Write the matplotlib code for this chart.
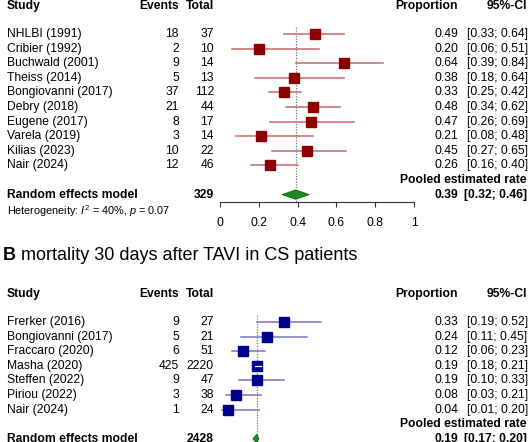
import matplotlib
matplotlib.use("Agg")
import matplotlib.pyplot as plt
from matplotlib.transforms import blended_transform_factory
from matplotlib.patches import Polygon

plt.rcParams["font.family"] = ["Liberation Sans", "DejaVu Sans"]
plt.rcParams["mathtext.fontset"] = "custom"
plt.rcParams["mathtext.rm"] = "Liberation Sans"
plt.rcParams["mathtext.it"] = "Liberation Sans:italic"

# panel A data
studies_a = ["NHLBI (1991)", "Cribier (1992)", "Buchwald (2001)", "Theiss (2014)",
             "Bongiovanni (2017)", "Debry (2018)", "Eugene (2017)", "Varela (2019)",
             "Kilias (2023)", "Nair (2024)"]
events_a = [18, 2, 9, 5, 37, 21, 8, 3, 10, 12]
totals_a = [37, 10, 14, 13, 112, 44, 17, 14, 22, 46]
prop_a = [0.49, 0.20, 0.64, 0.38, 0.33, 0.48, 0.47, 0.21, 0.45, 0.26]
lo_a = [0.33, 0.06, 0.39, 0.18, 0.25, 0.34, 0.26, 0.08, 0.27, 0.16]
hi_a = [0.64, 0.51, 0.84, 0.64, 0.42, 0.62, 0.69, 0.48, 0.65, 0.40]
pooled_a = (0.39, 0.32, 0.46)
total_sum_a = 329

# panel B data
studies_b = ["Frerker (2016)", "Bongiovanni (2017)", "Fraccaro (2020)", "Masha (2020)",
             "Steffen (2022)", "Piriou (2022)", "Nair (2024)"]
events_b = [9, 5, 6, 425, 9, 3, 1]
totals_b = [27, 21, 51, 2220, 47, 38, 24]
prop_b = [0.33, 0.24, 0.12, 0.19, 0.19, 0.08, 0.04]
lo_b = [0.19, 0.11, 0.06, 0.18, 0.10, 0.03, 0.01]
hi_b = [0.52, 0.45, 0.23, 0.21, 0.33, 0.21, 0.20]
pooled_b = (0.19, 0.17, 0.20)
total_sum_b = 2428

ticks = [0, 0.2, 0.4, 0.6, 0.8, 1]

W, H = 530, 442
FS = 8.7
fig = plt.figure(figsize=(W / 100, H / 100), dpi=100)

ROW = 14.6  # pixels per row
X0, X1 = 220, 414  # pixel span of 0..1


def make_axes(first_row_px, top_px, bottom_px):
    ax = fig.add_axes([X0 / W, (H - bottom_px) / H, (X1 - X0) / W, (bottom_px - top_px) / H])
    ax.set_xlim(0, 1)
    ax.set_ylim((bottom_px - first_row_px) / ROW, (top_px - first_row_px) / ROW)
    ax.patch.set_visible(False)
    for s in ["top", "right", "left"]:
        ax.spines[s].set_visible(False)
    ax.spines["bottom"].set_color("#333333")
    ax.set_yticks([])
    ax.set_xticks(ticks)
    ax.set_xticklabels(["0", "0.2", "0.4", "0.6", "0.8", "1"])
    ax.tick_params(axis="x", length=3.6, pad=7.5, labelsize=FS, color="#333333")
    return ax


def forest(ax, studies, events, totals, prop, lo, hi, pooled, total_sum,
           sq_col, line_col, het=None):
    tr = blended_transform_factory(fig.transFigure, ax.transData)
    n = len(studies)
    rows = list(range(n))
    fx = lambda px: px / W

    # header
    hy = -1.95
    kw = dict(transform=tr, fontsize=FS, va="center", clip_on=False)
    ax.text(fx(7), hy, "Study", fontweight="bold", ha="left", **kw)
    ax.text(fx(179), hy, "Events", fontweight="bold", ha="right", **kw)
    ax.text(fx(214), hy, "Total", fontweight="bold", ha="right", **kw)
    ax.text(fx(458), hy, "Proportion", fontweight="bold", ha="right", **kw)
    ax.text(fx(527), hy, "95%-CI", fontweight="bold", ha="right", **kw)

    # reference line at pooled estimate
    ax.plot([pooled[0], pooled[0]], [-0.5, n + 1.5], color="#777777",
            lw=0.9, ls=(0, (1, 1.2)), zorder=1, clip_on=True)

    half = 5.0 / (X1 - X0)
    for r, s, e, t, p, l, h in zip(rows, studies, events, totals, prop, lo, hi):
        ax.plot([l, h], [r, r], color=line_col, lw=1.1, zorder=2)
        ax.plot([p], [r], marker="s", ms=7.3, color=sq_col, mec=sq_col, zorder=3, ls="none")
        if (h - l) / 2 < half:
            ax.plot([l, h], [r, r], color="white", lw=0.9, zorder=4)
        ax.text(fx(7), r, s, ha="left", **kw)
        ax.text(fx(179), r, str(e), ha="right", **kw)
        ax.text(fx(214), r, str(t), ha="right", **kw)
        ax.text(fx(458), r, f"{p:.2f}", ha="right", **kw)
        ax.text(fx(467), r, f"[{l:.2f}; {h:.2f}]", ha="left", **kw)

    # pooled row
    pr = n + 1
    est, plo, phi = pooled
    diamond = Polygon([(plo, pr), (est, pr - 0.32), (phi, pr), (est, pr + 0.32)],
                      closed=True, facecolor="#1e8a1e", edgecolor="#116611", lw=0.6, zorder=3)
    ax.add_patch(diamond)
    ax.text(fx(526), pr - 1, "Pooled estimated rate", fontweight="bold", ha="right", **kw)
    ax.text(fx(7), pr, "Random effects model", fontweight="bold", ha="left", **kw)
    ax.text(fx(214), pr, str(total_sum), fontweight="bold", ha="right", **kw)
    ax.text(fx(458), pr, f"{est:.2f}", fontweight="bold", ha="right", **kw)
    ax.text(fx(527), pr, f"[{plo:.2f}; {phi:.2f}]", fontweight="bold", ha="right", **kw)
    if het:
        ax.text(fx(7), pr + 1.1, het, transform=tr, fontsize=7.8, ha="left",
                va="center", clip_on=False)


ax_a = make_axes(34, 0, 202)
forest(ax_a, studies_a, events_a, totals_a, prop_a, lo_a, hi_a, pooled_a, total_sum_a,
       "#8b0000", "#c46a6a", het=r"Heterogeneity: $I^2$ = 40%, $p$ = 0.07")

ax_b = make_axes(322, 270, 446)
forest(ax_b, studies_b, events_b, totals_b, prop_b, lo_b, hi_b, pooled_b, total_sum_b,
       "#00008b", "#7474c4")

# panel B title
tb = fig.text(3 / W, 1 - 255 / H, "B", fontsize=13, fontweight="bold", va="center", ha="left")
fig.canvas.draw()
bb = tb.get_window_extent()
fig.text(bb.x1 / W, 1 - 255 / H, " mortality 30 days after TAVI in CS patients",
         fontsize=13, va="center", ha="left")

fig.savefig("out.png", dpi=100)
